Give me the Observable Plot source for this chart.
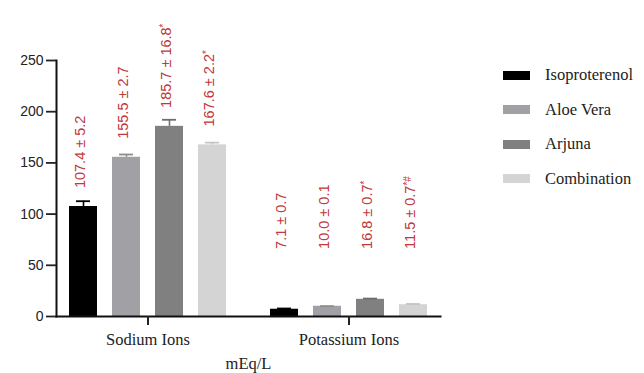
<!DOCTYPE html>
<html><head><meta charset="utf-8">
<script src="https://cdn.jsdelivr.net/npm/d3@7"></script>
<script src="https://cdn.jsdelivr.net/npm/@observablehq/plot@0.6"></script>
<style>
body{margin:0;background:#fff;}
#wrap{position:relative;width:644px;height:373px;}
#legend{position:absolute;left:503px;top:58px;}
.lg-swatch{height:34.5px;padding:0 !important;margin:0 !important;display:flex !important;align-items:center;font-family:"Liberation Serif",serif;font-size:16.5px;color:#222;}
.lg-swatch svg{margin-right:15px !important;}
</style></head><body><div id="wrap"><div id="chart"></div><div id="legend"></div></div>
<script>
const groups = ["Sodium Ions", "Potassium Ions"];
const series = ["Isoproterenol", "Aloe Vera", "Arjuna", "Combination"];
const sodium = [107.4, 155.5, 185.7, 167.6];
const potassium = [7.1, 10.0, 16.8, 11.5];
const sodiumErr = [5.2, 2.7, 6.4, 2.2];      // error bars as drawn
const potassiumErr = [0.7, 0.1, 0.7, 0.7];
const sodiumLabels = ["107.4 ± 5.2", "155.5 ± 2.7", "185.7 ± 16.8", "167.6 ± 2.2"];
const potassiumLabels = ["7.1 ± 0.7", "10.0 ± 0.1", "16.8 ± 0.7", "11.5 ± 0.7"];
const sodiumSig = ["", "", "*", "*"];
const potassiumSig = ["", "", "*", "*#"];
const yTicks = [0, 50, 100, 150, 200, 250];
const colors = ["#000000", "#a0a0a5", "#808080", "#d4d4d4"];
const capColors = ["#000000", "#8c8c91", "#6e6e6e", "#c4c4c4"];
const labelRed = "#c0393b";

const table = [];
series.forEach((s, i) => {
  table.push({group: groups[0], series: s, value: sodium[i], err: sodiumErr[i], label: sodiumLabels[i] + (sodiumSig[i] ? "^" + sodiumSig[i] : "")});
  table.push({group: groups[1], series: s, value: potassium[i], err: potassiumErr[i], label: potassiumLabels[i] + (potassiumSig[i] ? "^" + potassiumSig[i] : "")});
});

const chart = Plot.plot({
  width: 644,
  height: 373,
  marginLeft: 55,
  marginRight: 204,
  marginTop: 60,
  marginBottom: 57,
  style: {background: "#fff", color: "#222"},
  fx: {domain: groups, paddingInner: 0.09, paddingOuter: 0},
  x: {domain: series, paddingInner: 0.345, paddingOuter: 0.276, axis: null},
  y: {domain: [0, 250]},
  color: {domain: series, range: colors},
  marks: [
    Plot.barY(table, {fx: "group", x: "series", y: "value", fill: "series"}),
    Plot.ruleX(table, {fx: "group", x: "series", y1: "value", y2: d => d.value + d.err, stroke: d => capColors[series.indexOf(d.series)], strokeWidth: 1.6}),
    Plot.tickY(table, {fx: "group", x: "series", y: d => d.value + d.err, stroke: d => capColors[series.indexOf(d.series)], strokeWidth: 1.8, inset: 7}),
    Plot.text(table, {fx: "group", x: "series", y: d => Math.max(d.value + 18, 66), text: "label",
      rotate: -90, textAnchor: "start", dx: -3, fill: labelRed, fontSize: 14.5, fontFamily: "Liberation Sans, sans-serif"}),
    Plot.frame({anchor: "left", facet: "super", stroke: "#111", strokeWidth: 2}),
    Plot.frame({anchor: "bottom", facet: "super", stroke: "#111", strokeWidth: 2}),
    Plot.axisY({ticks: yTicks, tickSize: 10, tickPadding: 3, strokeWidth: 1.8, fontSize: 14, fontFamily: "Liberation Sans, sans-serif", label: null}),
    Plot.axisFx({anchor: "bottom", tickSize: 9, tickPadding: 8, strokeWidth: 2, fontSize: 16.5, fontFamily: "Liberation Serif, serif",
      label: "mEq/L", labelAnchor: "center", labelOffset: 52})
  ]
});

// superscript significance marks
chart.querySelectorAll("text").forEach(t => {
  const s = t.textContent;
  if (s.includes("^")) {
    const [main, sup] = s.split("^");
    t.textContent = main;
    const ts = document.createElementNS("http://www.w3.org/2000/svg", "tspan");
    ts.setAttribute("dy", "-0.45em");
    ts.setAttribute("font-size", "10");
    ts.textContent = sup;
    t.appendChild(ts);
  }
});

document.getElementById("chart").appendChild(chart);

const legend = Plot.legend({
  color: {domain: series, range: colors},
  legend: "swatches",
  columns: 1,
  swatchWidth: 27,
  swatchHeight: 9,
  className: "lg"
});
document.getElementById("legend").appendChild(legend);
</script>
</body></html>
